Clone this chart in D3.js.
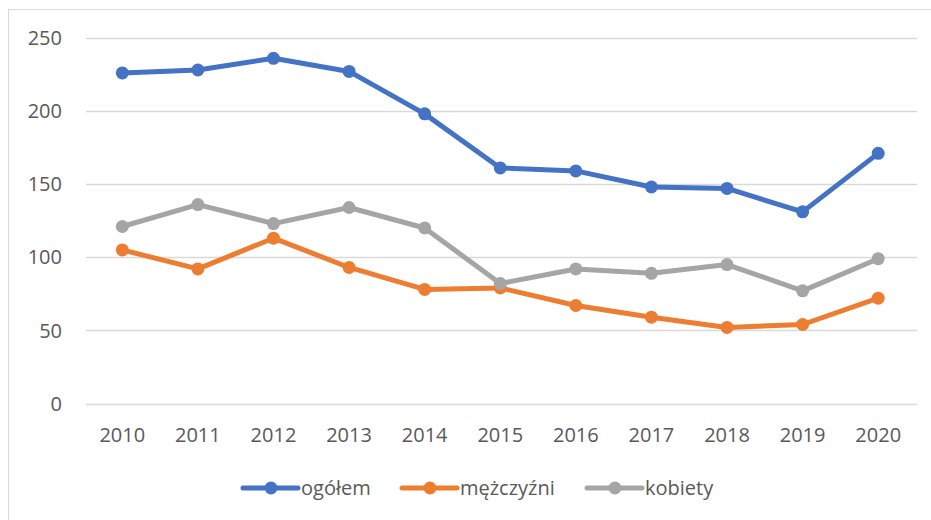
<!DOCTYPE html>
<html>
<meta charset="utf-8"/>
<head>
  <style>
    body { margin: 0; background: #fff; }
    text { font-family: "Open Sans", sans-serif; fill: #595959; }
  </style>
</head>
<body>
<svg width="931" height="520"></svg>
<script src="https://d3js.org/d3.v7.min.js"></script>
<script>
// data
var years = ["2010","2011","2012","2013","2014","2015","2016","2017","2018","2019","2020"];
var ogolem = [226, 228, 236, 227, 198, 161, 159, 148, 147, 131, 171];
var mezczyzni = [105, 92, 113, 93, 78, 79, 67, 59, 52, 54, 72];
var kobiety = [121, 136, 123, 134, 120, 82, 92, 89, 95, 77, 99];
var yTicks = [0, 50, 100, 150, 200, 250];

var series = [
  { name: "ogółem", values: ogolem, color: "#4472C4" },
  { name: "mężczyźni", values: mezczyzni, color: "#ED7D31" },
  { name: "kobiety", values: kobiety, color: "#A5A5A5" }
];

var svg = d3.select("svg");

// outer chart border (only top/left visible in the picture)
svg.append("rect")
  .attr("x", 8.5).attr("y", 9.5)
  .attr("width", 940).attr("height", 540)
  .attr("fill", "none").attr("stroke", "#d9d9d9");

var x = d3.scaleBand().domain(years).range([84.5, 916]);
var y = d3.scaleLinear().domain([0, 250]).range([403.5, 37.8]);

// gridlines
svg.append("g").selectAll("line")
  .data(yTicks)
  .enter().append("line")
    .attr("x1", 86).attr("x2", 917)
    .attr("y1", d => Math.round(y(d)) + 0.5)
    .attr("y2", d => Math.round(y(d)) + 0.5)
    .attr("stroke", "#d9d9d9").attr("stroke-width", 1.3);

// y labels
svg.append("g").selectAll("text")
  .data(yTicks)
  .enter().append("text")
    .attr("x", 62)
    .attr("y", d => y(d))
    .attr("dy", "0.36em")
    .attr("text-anchor", "end")
    .style("font-size", "20px")
    .text(d => d);

// x labels
svg.append("g").selectAll("text")
  .data(years)
  .enter().append("text")
    .attr("x", d => x(d) + x.bandwidth() / 2)
    .attr("y", 442)
    .attr("text-anchor", "middle")
    .style("font-size", "20px")
    .text(d => d);

var line = d3.line()
  .x((d, i) => x(years[i]) + x.bandwidth() / 2)
  .y(d => y(d));

// draw kobiety first? in the picture orange sits on top of gray at 2015 crossing... gray point drawn over orange
var order = [series[0], series[1], series[2]];
order.forEach(function(s) {
  var g = svg.append("g");
  g.append("path")
    .datum(s.values)
    .attr("d", line)
    .attr("fill", "none")
    .attr("stroke", s.color)
    .attr("stroke-width", 5)
    .attr("stroke-linejoin", "round");
  g.selectAll("circle")
    .data(s.values)
    .enter().append("circle")
      .attr("cx", (d, i) => x(years[i]) + x.bandwidth() / 2)
      .attr("cy", d => y(d))
      .attr("r", 6.5)
      .attr("fill", s.color);
});

// legend
var legendX = [243, 402, 587];
var legend = svg.append("g").selectAll("g")
  .data(series)
  .enter().append("g")
    .attr("transform", (d, i) => "translate(" + legendX[i] + ",488)");
legend.append("line")
  .attr("x1", 0).attr("x2", 55)
  .attr("stroke", d => d.color).attr("stroke-width", 5)
  .attr("stroke-linecap", "round");
legend.append("circle")
  .attr("cx", 28).attr("r", 6.5)
  .attr("fill", d => d.color);
legend.append("text")
  .attr("x", 58)
  .attr("dy", "0.33em")
  .style("font-size", "20px")
  .text(d => d.name);
</script>
</body>
</html>
